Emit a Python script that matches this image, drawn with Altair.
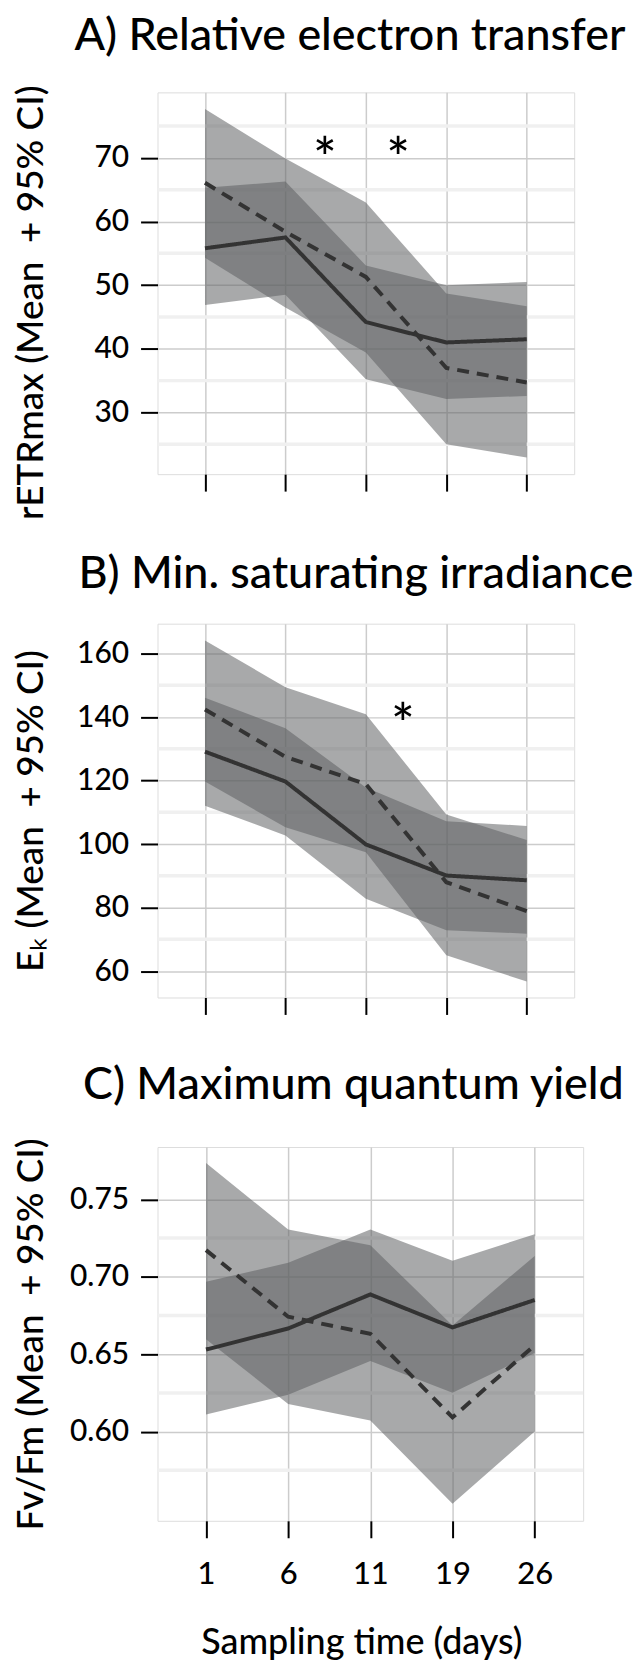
import altair as alt
import pandas as pd

# ---------------- data ----------------
days = ["1", "6", "11", "19", "26"]
day_pos = [1, 2, 3, 4, 5]

# A) rETRmax
a_solid_mean = [55.8, 57.5, 44.2, 41.0, 41.5]
a_solid_lo = [46.9, 48.5, 35.2, 32.1, 32.6]
a_solid_hi = [65.3, 66.3, 53.1, 50.0, 50.5]
a_dash_mean = [66.1, 58.4, 51.3, 37.0, 34.7]
a_dash_lo = [54.3, 46.5, 39.4, 25.0, 22.9]
a_dash_hi = [77.7, 69.9, 63.0, 48.7, 46.7]
a_star_pos = [2.49, 3.40]
a_star_val = [72.0, 72.0]
a_ticks = [30, 40, 50, 60, 70]
a_minor = [25, 35, 45, 55, 65, 75]

# B) Ek
b_solid_mean = [129.1, 119.7, 99.9, 90.1, 88.6]
b_solid_lo = [112.1, 102.7, 82.8, 72.9, 71.8]
b_solid_hi = [146.1, 136.5, 117.8, 107.2, 105.7]
b_dash_mean = [142.4, 127.5, 118.9, 88.0, 78.9]
b_dash_lo = [119.7, 105.3, 97.4, 65.0, 56.7]
b_dash_hi = [164.1, 149.4, 140.9, 109.3, 101.3]
b_star_pos = [3.46]
b_star_val = [141.9]
b_ticks = [60, 80, 100, 120, 140, 160]
b_minor = [70, 90, 110, 130, 150]

# C) Fv/Fm
c_solid_mean = [0.653, 0.6666, 0.6886, 0.6673, 0.685]
c_solid_lo = [0.611, 0.6238, 0.6456, 0.6251, 0.6507]
c_solid_hi = [0.6968, 0.709, 0.7305, 0.7103, 0.7275]
c_dash_mean = [0.7172, 0.6742, 0.6632, 0.6092, 0.6558]
c_dash_lo = [0.6596, 0.6179, 0.6072, 0.5534, 0.600]
c_dash_hi = [0.7735, 0.7305, 0.7203, 0.6686, 0.7134]
c_ticks = [0.60, 0.65, 0.70, 0.75]
c_minor = [0.575, 0.625, 0.675, 0.725]

FONT = "Lato"
WEIGHT = 500
BAND = "#5e6062"
LINE = "#333333"
GRID = "#cccccc"
MINOR = "#f0f0f0"

label_expr = "[" + ",".join("'%s'" % d for d in days) + "][datum.value - 1]"


def long_table(smean, slo, shi, dmean, dlo, dhi):
    rows = []
    for i, d in enumerate(days):
        rows.append(dict(pos=day_pos[i], day=d, series="solid",
                         mean=smean[i], lo=slo[i], hi=shi[i]))
        rows.append(dict(pos=day_pos[i], day=d, series="dashed",
                         mean=dmean[i], lo=dlo[i], hi=dhi[i]))
    return pd.DataFrame(rows)


def panel(df, domain, ticks, minor, fmt, ytitle, title, title_dx, title_offset,
          width, height, ytitle_shift, last, stars=None):
    xscale = alt.Scale(domain=[0.41, 5.59], nice=False, zero=False)
    xaxis_kw = dict(values=day_pos, grid=True, gridColor=GRID, gridWidth=1.5,
                    domain=False, ticks=True, tickColor="#000000", tickWidth=2,
                    tickSize=17)
    if last:
        xaxis_kw.update(labels=True, labelExpr=label_expr, labelFont=FONT,
                        labelFontSize=31, labelFontWeight=WEIGHT,
                        labelColor="#000000", labelPadding=22,
                        title="Sampling time (days)", titleFont=FONT,
                        titleFontSize=36, titleFontWeight=WEIGHT,
                        titleColor="#000000", titleBaseline="alphabetic",
                        titleAlign="center", titleX=width / 2 - 9, titleY=133)
        xenc = alt.X("pos:Q", scale=xscale, axis=alt.Axis(**xaxis_kw))
    else:
        xaxis_kw.update(labels=False)
        xenc = alt.X("pos:Q", scale=xscale, axis=alt.Axis(**xaxis_kw), title=None)

    yscale = alt.Scale(domain=domain, nice=False, zero=False)
    yaxis = alt.Axis(values=ticks, format=fmt, grid=True, gridColor=GRID,
                     gridWidth=1.5, domain=False, tickColor="#000000",
                     tickWidth=2, tickSize=17, labelFont=FONT, labelFontSize=30,
                     labelFontWeight=WEIGHT, labelColor="#000000",
                     labelPadding=12, title=ytitle,
                     titleFont=FONT, titleFontSize=37, titleFontWeight=WEIGHT,
                     titleColor="#000000", titleAngle=270, titleBaseline="top",
                     titleAlign="center", titleX=-144,
                     titleY=height / 2 + ytitle_shift)

    def yenc(field):
        return alt.Y(field, scale=yscale, axis=yaxis)

    minor_df = pd.DataFrame({"v": minor})
    minor_layer = alt.Chart(minor_df).mark_rule(
        color=MINOR, strokeWidth=3.5).encode(y=yenc("v:Q"))

    bands = alt.Chart(df).mark_area(color=BAND, opacity=0.54).encode(
        x=xenc, y=yenc("lo:Q"), y2="hi:Q", detail="series:N")

    lines = alt.Chart(df).mark_line(color=LINE, strokeWidth=4,
                                    strokeCap="butt").encode(
        x=xenc, y=yenc("mean:Q"),
        strokeDash=alt.StrokeDash(
            "series:N",
            scale=alt.Scale(domain=["solid", "dashed"], range=[[1, 0], [12, 8]]),
            legend=None))

    layers = [minor_layer, bands, lines]
    if stars is not None:
        sdf = pd.DataFrame({"pos": stars[0], "v": stars[1], "t": ["*"] * len(stars[0])})
        star_layer = alt.Chart(sdf).mark_text(
            font=FONT, fontSize=56, fontWeight=WEIGHT, color="#000000",
            align="center", baseline="alphabetic", dy=33).encode(
            x=xenc, y=yenc("v:Q"), text="t:N")
        layers.append(star_layer)

    return alt.layer(*layers).properties(
        width=width, height=height,
        title=alt.TitleParams(text=title, font=FONT, fontSize=45,
                              fontWeight=WEIGHT, color="#000000",
                              anchor="middle", frame="group",
                              baseline="top", offset=title_offset,
                              dx=title_dx))


dfA = long_table(a_solid_mean, a_solid_lo, a_solid_hi, a_dash_mean, a_dash_lo, a_dash_hi)
dfB = long_table(b_solid_mean, b_solid_lo, b_solid_hi, b_dash_mean, b_dash_lo, b_dash_hi)
dfC = long_table(c_solid_mean, c_solid_lo, c_solid_hi, c_dash_mean, c_dash_lo, c_dash_hi)

pA = panel(dfA, [20.3, 80.3], a_ticks, a_minor, "d",
           "rETRmax (Mean\u00a0 + 95% CI)", "A) Relative electron transfer",
           -16, 26, 418, 383, 19, False, (a_star_pos, a_star_val))
pB = panel(dfB, [51.7, 169.4], b_ticks, b_minor, "d",
           "E\u2096 (Mean\u00a0 + 95% CI)", "B) Min. saturating irradiance",
           -10, 27, 418, 375, 0, False, (b_star_pos, b_star_val))
pC = panel(dfC, [0.5424, 0.7838], c_ticks, c_minor, ".2f",
           "Fv/Fm (Mean\u00a0 + 95% CI)", "C) Maximum quantum yield",
           -17, 30, 427, 375, 0, True)

chart = alt.vconcat(pA, pB, pC, spacing=150, bounds="flush").properties(
    padding={"left": 4, "top": 3, "right": 0, "bottom": 0}
).configure_view(stroke="#444444", strokeWidth=2.5).configure(font=FONT)

chart.save("out.html", embed_options={"renderer": "svg", "actions": False})
